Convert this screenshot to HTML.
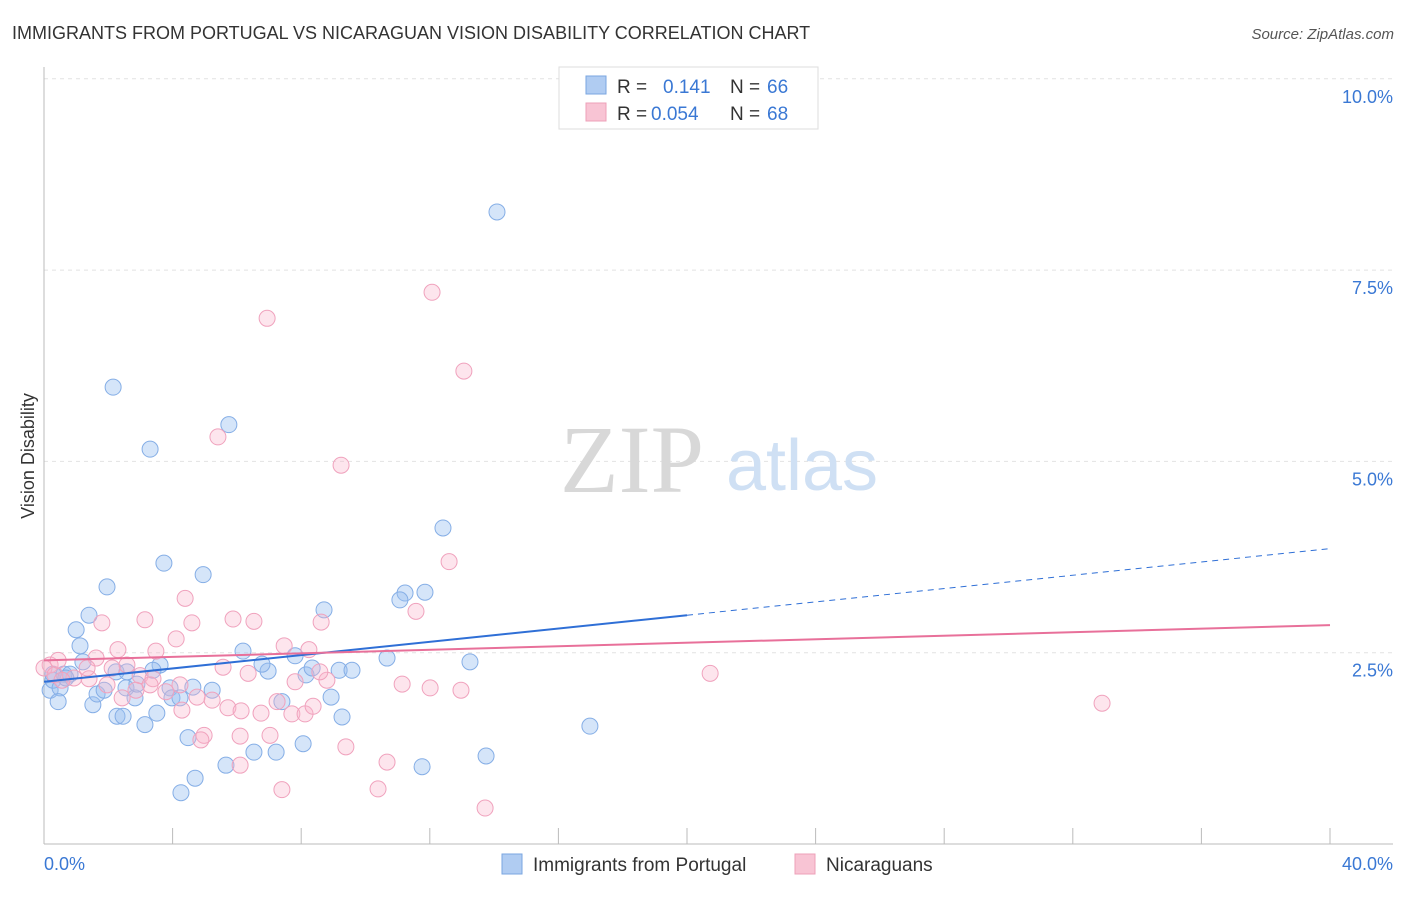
<!DOCTYPE html>
<html><head><meta charset="utf-8"><style>
body{margin:0;background:#fff;font-family:"Liberation Sans",sans-serif}
svg text{font-family:"Liberation Sans",sans-serif}
</style></head><body>
<svg width="1406" height="892" viewBox="0 0 1406 892">
<text x="12" y="39" font-size="18" fill="#333">IMMIGRANTS FROM PORTUGAL VS NICARAGUAN VISION DISABILITY CORRELATION CHART</text>
<text x="1394" y="39" font-size="15" fill="#555" font-style="italic" text-anchor="end">Source: ZipAtlas.com</text>
<g id="grid"></g>
<text x="632" y="492" font-size="96" fill="#d8d8d8" text-anchor="middle" font-family="Liberation Serif" style="font-family:'Liberation Serif',serif">ZIP</text>
<text x="802" y="490" font-size="72" fill="#cfe0f4" text-anchor="middle">atlas</text>
<text transform="translate(34,456) rotate(-90)" font-size="18" fill="#333" text-anchor="middle">Vision Disability</text>
<g id="marks"></g>
<g>
<rect x="559" y="67" width="259" height="62" fill="#fff" stroke="#ddd"/>
<rect x="586" y="76" width="20" height="18" fill="#b0ccf2" stroke="#7aa6e0"/>
<rect x="586" y="103" width="20" height="18" fill="#f8c4d4" stroke="#eea0b8"/>
<text x="617" y="93" font-size="19" fill="#333">R = </text><text x="663" y="93" font-size="19" fill="#3a78d4">0.141</text>
<text x="730" y="93" font-size="19" fill="#333">N = </text><text x="767" y="93" font-size="19" fill="#3a78d4">66</text>
<text x="617" y="120" font-size="19" fill="#333">R = </text><text x="651" y="120" font-size="19" fill="#3a78d4">0.054</text>
<text x="730" y="120" font-size="19" fill="#333">N = </text><text x="767" y="120" font-size="19" fill="#3a78d4">68</text>
</g>
<g>
<rect x="502" y="854" width="20" height="20" fill="#b0ccf2" stroke="#7aa6e0"/>
<text x="533" y="871" font-size="19" fill="#333">Immigrants from Portugal</text>
<rect x="795" y="854" width="20" height="20" fill="#f8c4d4" stroke="#eea0b8"/>
<text x="826" y="871" font-size="19" fill="#333">Nicaraguans</text>
</g>
</svg>
<script>
const xTicks=[0,4,8,12,16,20,24,28,32,36,40];
const yTicks=[2.5,5,7.5,10];
const yTickLabels=["2.5%","5.0%","7.5%","10.0%"];
const blueX=[14.09,2.15,3.30,5.75,12.41,3.73,4.95,1.96,11.85,11.23,11.07,8.71,1.40,1.00,1.12,1.21,3.61,6.19,6.97,6.78,7.81,8.15,8.34,9.18,9.58,10.67,13.25,0.19,0.28,0.50,0.62,0.81,0.44,1.52,1.65,1.87,2.24,2.55,2.58,2.83,2.89,3.39,3.92,3.98,4.23,4.63,5.23,2.27,2.46,3.14,3.51,4.48,4.70,4.26,5.66,6.53,7.22,7.40,8.06,8.93,9.27,11.76,13.75,16.98,0.28,0.68];
const blueY=[8.26,5.97,5.16,5.48,4.13,3.67,3.52,3.36,3.29,3.28,3.19,3.06,2.99,2.80,2.59,2.38,2.34,2.52,2.26,2.35,2.46,2.21,2.30,2.27,2.27,2.43,2.38,2.01,2.14,2.04,2.22,2.22,1.86,1.82,1.96,2.01,2.25,2.04,2.25,1.91,2.09,2.27,2.04,1.91,1.91,2.05,2.01,1.67,1.67,1.56,1.71,1.39,0.86,0.67,1.03,1.20,1.20,1.86,1.31,1.92,1.66,1.01,1.15,1.54,2.22,2.17];
const pinkX=[12.07,6.94,13.06,5.41,9.24,12.60,11.57,4.39,3.14,4.60,5.88,6.53,4.11,1.80,8.62,2.30,3.48,7.47,8.24,1.62,2.58,0.19,0,0.34,0.93,1.40,1.96,2.99,3.39,5.57,6.35,7.81,8.80,8.58,11.14,12.01,12.97,20.72,32.91,3.30,4.76,4.29,5.23,5.72,6.13,6.75,7.71,8.12,8.37,7.25,4.98,4.88,6.10,7.03,9.39,10.67,10.39,7.40,13.72,6.10,2.43,3.79,1.34,2.86,4.23,0.44,0.56,2.12];
const pinkY=[7.21,6.87,6.18,5.32,4.95,3.69,3.04,3.21,2.93,2.89,2.94,2.91,2.68,2.89,2.90,2.54,2.52,2.59,2.54,2.43,2.34,2.34,2.30,2.21,2.17,2.16,2.08,2.20,2.16,2.31,2.23,2.12,2.14,2.25,2.09,2.04,2.01,2.23,1.84,2.08,1.92,1.75,1.88,1.78,1.74,1.71,1.70,1.70,1.80,1.86,1.42,1.36,1.41,1.42,1.27,1.07,0.72,0.71,0.47,1.03,1.91,1.99,2.30,2.01,2.08,2.40,2.14,2.30];
const blueTrend=[2.12,3.86];
const pinkTrend=[2.40,2.86];
const NS="http://www.w3.org/2000/svg";
const X0=44,X1=1330,Y0=844,PER=76.52;
function sx(v){return X0+(v/40)*(X1-X0);}
function sy(v){return Y0-v*PER;}
function mk(tag,attrs,parent){const e=document.createElementNS(NS,tag);for(const k in attrs)e.setAttribute(k,attrs[k]);parent.appendChild(e);return e;}
const grid=document.getElementById('grid');
yTicks.forEach((t,i)=>{
  const l=mk('line',{x1:X0,x2:1393,y1:sy(t),y2:sy(t),stroke:'#e2e2e2','stroke-dasharray':'4 4'},grid);
  
  
  const tx=mk('text',{x:1393,y:sy(t)+24,'font-size':18,fill:'#3a78d4','text-anchor':'end'},grid);
  tx.textContent=yTickLabels[i];
  
  
});
const ax=mk('line',{x1:X0,x2:X0,y1:67,y2:Y0,stroke:'#bbb'},grid);


const bx=mk('line',{x1:X0,x2:1393,y1:Y0,y2:Y0,stroke:'#bbb'},grid);


xTicks.forEach(t=>{
  const l=mk('line',{x1:sx(t),x2:sx(t),y1:Y0-16,y2:Y0,stroke:'#bbb'},grid);
  
  
});
const xl0=mk('text',{x:44,y:870,'font-size':18,fill:'#3a78d4'},grid);xl0.textContent='0.0%';


const xl1=mk('text',{x:1393,y:870,'font-size':18,fill:'#3a78d4','text-anchor':'end'},grid);xl1.textContent='40.0%';


const marks=document.getElementById('marks');
blueX.forEach((v,i)=>{
  const c=mk('circle',{cx:sx(v),cy:sy(blueY[i]),r:8,fill:'rgba(150,190,240,0.4)',stroke:'#85aee6','stroke-width':1},marks);
  
  
});
pinkX.forEach((v,i)=>{
  const c=mk('circle',{cx:sx(v),cy:sy(pinkY[i]),r:8,fill:'rgba(248,180,204,0.35)',stroke:'#f0a2bd','stroke-width':1},marks);
  
  
});
const bmid=blueTrend[0]+(blueTrend[1]-blueTrend[0])*0.5;
const t1=mk('line',{x1:sx(0),y1:sy(blueTrend[0]),x2:sx(20),y2:sy(bmid),stroke:'#2f6fd6','stroke-width':2},marks);


const t2=mk('line',{x1:sx(20),y1:sy(bmid),x2:sx(40),y2:sy(blueTrend[1]),stroke:'#2f6fd6','stroke-width':1,'stroke-dasharray':'6 5'},marks);


const t3=mk('line',{x1:sx(0),y1:sy(pinkTrend[0]),x2:sx(40),y2:sy(pinkTrend[1]),stroke:'#e8709a','stroke-width':2},marks);


</script>
</body></html>
